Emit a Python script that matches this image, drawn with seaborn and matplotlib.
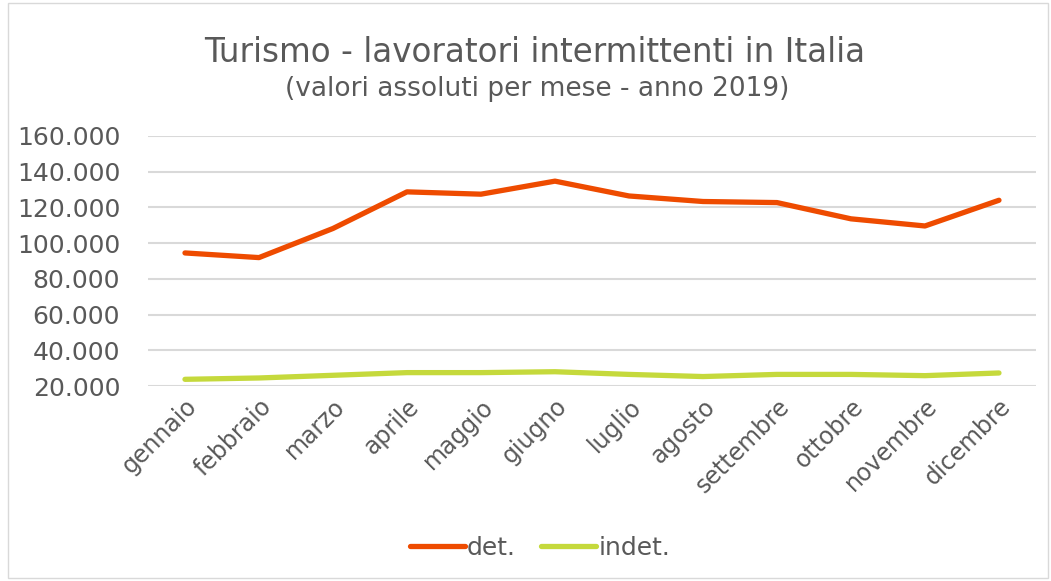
import pandas as pd
import seaborn as sns
import matplotlib.pyplot as plt
from matplotlib.ticker import FuncFormatter, MultipleLocator
from matplotlib.patches import Rectangle

mesi = ['gennaio', 'febbraio', 'marzo', 'aprile', 'maggio', 'giugno',
        'luglio', 'agosto', 'settembre', 'ottobre', 'novembre', 'dicembre']
det = [94500, 91900, 108200, 128700, 127400, 134700,
       126400, 123300, 122700, 113600, 109600, 124000]
indet = [23750, 24500, 26000, 27500, 27500, 28000,
         26500, 25300, 26500, 26500, 25800, 27300]

df = pd.DataFrame({
    'mese': mesi * 2,
    'valore': det + indet,
    'tipo': ['det.'] * 12 + ['indet.'] * 12,
})

sns.set_theme(style="whitegrid")
plt.rcParams['font.family'] = ['DejaVu Sans']
grey = '#595959'

fig = plt.figure(figsize=(10.51, 5.81), dpi=100)
ax = fig.add_axes([0.1408, 0.3356, 0.8449, 0.4304])

sns.lineplot(data=df, x='mese', y='valore', hue='tipo', sort=False,
             palette={'det.': '#EE4B00', 'indet.': '#C5D93C'},
             linewidth=3.8, ax=ax, solid_capstyle='round')

ax.set_xlim(-0.5, 11.5)
ax.set_ylim(20000, 160000)
ax.yaxis.set_major_locator(MultipleLocator(20000))
ax.yaxis.set_major_formatter(FuncFormatter(lambda v, p: f'{int(v):,}'.replace(',', '.')))
ax.grid(axis='y', color='#D9D9D9', linewidth=1.5)
ax.grid(axis='x', visible=False)
for s in ax.spines.values():
    s.set_visible(False)
ax.set_xlabel('')
ax.set_ylabel('')
ax.tick_params(axis='y', length=0, labelsize=18, labelcolor=grey, pad=20)
ax.tick_params(axis='x', length=0, labelsize=17, labelcolor=grey, pad=6)
plt.setp(ax.get_xticklabels(), rotation=45, ha='right', rotation_mode='anchor')

leg = ax.legend(loc='center', bbox_to_anchor=(540 / 1051, 1 - 548 / 581),
                bbox_transform=fig.transFigure, ncol=2, frameon=False,
                fontsize=18, handlelength=2.2, handletextpad=0.1, columnspacing=1.0)
for t in leg.get_texts():
    t.set_color(grey)

fig.text(535 / 1051, 1 - 53 / 581, 'Turismo - lavoratori intermittenti in Italia',
         ha='center', va='center', fontsize=23.5, color=grey)
fig.text(537 / 1051, 1 - 89 / 581, '(valori assoluti per mese - anno 2019)',
         ha='center', va='center', fontsize=19, color=grey)

fig.patches.append(Rectangle((8 / 1051, 3 / 581), 1040 / 1051, 575 / 581,
                             transform=fig.transFigure, fill=False,
                             edgecolor='#D9D9D9', linewidth=1))

plt.savefig('out.png', dpi=100)
